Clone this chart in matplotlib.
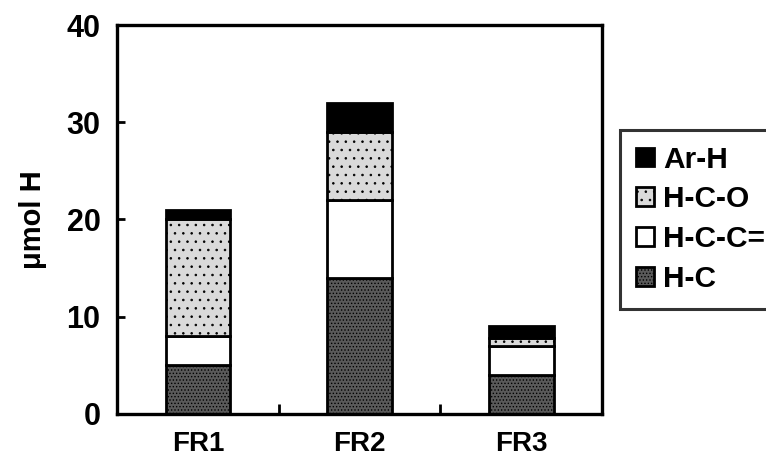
import matplotlib
matplotlib.use("Agg")
import matplotlib.pyplot as plt
import numpy as np

plt.rcParams['font.family'] = ['Liberation Sans', 'DejaVu Sans']
plt.rcParams['font.weight'] = 'bold'
plt.rcParams['hatch.linewidth'] = 0.6

categories = ["FR1", "FR2", "FR3"]
h_c = [5, 14, 4]
h_c_c = [3, 8, 3]
h_c_o = [12, 7, 0.8]
ar_h = [1, 3, 1.2]
series_names = ["H-C", "H-C-C=", "H-C-O", "Ar-H"]
y_ticks = [0, 10, 20, 30, 40]

fig = plt.figure(figsize=(7.66, 4.63), dpi=100)
ax = fig.add_axes([0.153, 0.106, 0.633, 0.840])

x = np.arange(len(categories))
w = 0.40
styles = [
    dict(facecolor="#5a5a5a", hatch="....."),
    dict(facecolor="white", hatch=None),
    dict(facecolor="#dadada", hatch=".."),
    dict(facecolor="black", hatch=None),
]
data = [h_c, h_c_c, h_c_o, ar_h]
bottom = np.zeros(len(categories))
handles = []
for name, vals, st in zip(series_names, data, styles):
    b = ax.bar(x, vals, w, bottom=bottom, edgecolor="black", linewidth=2.0,
               label=name, **st)
    handles.append(b)
    bottom += np.array(vals)

ax.set_xlim(-0.5, 2.5)
ax.set_ylim(0, 40)
ax.set_yticks(y_ticks)
ax.set_yticklabels([str(v) for v in y_ticks], fontsize=22, fontweight='bold')
ax.set_xticks(x)
ax.set_xticklabels(categories, fontsize=20, fontweight='bold')
ax.tick_params(axis='x', length=0, pad=12)
ax.set_xticks([0.5, 1.5], minor=True)
ax.tick_params(axis='x', which='minor', direction='in', length=7, width=2)
ax.tick_params(axis='y', direction='in', length=6, width=2, pad=12)
for s in ax.spines.values():
    s.set_linewidth(2.4)
ax.set_ylabel("\u03bcmol H", fontsize=21, fontweight='bold', labelpad=14)

leg = fig.legend(handles[::-1], series_names[::-1], loc='upper left',
                 bbox_to_anchor=(0.8095, 0.7192), fontsize=21.5,
                 frameon=True, fancybox=False, edgecolor='black',
                 handlelength=0.6, handleheight=0.6, handletextpad=0.33,
                 labelspacing=0.40, borderpad=0.52, borderaxespad=0)
leg.get_frame().set_linewidth(2.2)
for t in leg.get_texts():
    t.set_fontweight('bold')

fig.savefig("out.png", dpi=100)
